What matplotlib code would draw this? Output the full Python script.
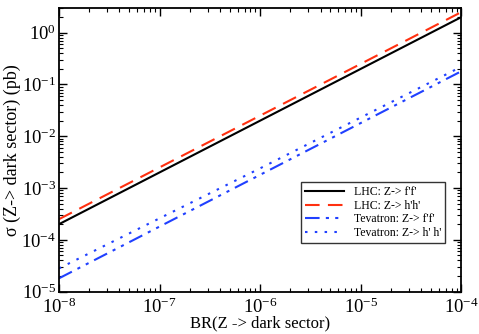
import matplotlib
matplotlib.use('Agg')
import matplotlib.pyplot as plt
import numpy as np

plt.rcParams['font.family'] = ['Liberation Serif', 'DejaVu Serif']
plt.rcParams['mathtext.fontset'] = 'custom'
plt.rcParams['mathtext.rm'] = 'Liberation Serif'
plt.rcParams['mathtext.it'] = 'Liberation Serif:italic'

# Data
br = [1e-8, 1e-7, 1e-6, 1e-5, 1e-4]
lhc_ff = [2.0e-4, 2.0e-3, 2.0e-2, 2.0e-1, 2.0]
lhc_hh = [2.5e-4, 2.5e-3, 2.5e-2, 2.5e-1, 2.5]
tev_ff = [1.8e-5, 1.8e-4, 1.8e-3, 1.8e-2, 1.8e-1]
tev_hh = [2.8e-5, 2.6e-4, 2.4e-3, 2.3e-2, 2.2e-1]

labels = ["LHC: Z-> f'f'", "LHC: Z-> h'h'",
          "Tevatron: Z-> f'f'", "Tevatron: Z-> h' h'"]

fig = plt.figure(figsize=(4.79, 3.34), dpi=100)
ax = fig.add_axes([0.123, 0.127, 0.84, 0.849])

ax.plot(br, lhc_ff, color='black', lw=1.5, label=labels[0])
ax.plot(br, lhc_hh, color='#ff3010', lw=1.5, dashes=(7, 4), label=labels[1])
ax.plot(br, tev_ff, color='#2040ff', lw=1.5, dashes=(7, 3, 1.5, 3, 1.5, 3), label=labels[2])
ax.plot(br, tev_hh, color='#2040ff', lw=1.5, linestyle=(0, (1.2, 3.5)), label=labels[3])

ax.set_xscale('log')
ax.set_yscale('log')
ax.set_xlim(1e-8, 1e-4)
ax.set_ylim(1e-5, 3.0)

ax.tick_params(which='both', direction='in', top=True, right=True, labelsize=13.5)
ax.tick_params(which='major', length=6, width=1)
ax.tick_params(which='minor', length=3, width=0.8)
ax.tick_params(axis='x', pad=4)
ax.tick_params(axis='y', pad=2)
ax.yaxis.set_minor_locator(matplotlib.ticker.LogLocator(base=10, subs=np.arange(2, 10)))
ax.xaxis.set_minor_locator(matplotlib.ticker.LogLocator(base=10, subs=np.arange(2, 10)))
for s in ax.spines.values():
    s.set_linewidth(1.3)

ax.set_xlabel('BR(Z -> dark sector)', fontsize=12, labelpad=-1)
ax.set_ylabel('\u03c3 (Z-> dark sector) (pb)', fontsize=13, labelpad=0)

leg = ax.legend(loc='lower right', bbox_to_anchor=(0.96, 0.172), fontsize=8.5,
                frameon=True, fancybox=False, edgecolor='black',
                handlelength=3.3, handletextpad=0.8, borderpad=0.35,
                labelspacing=0.12, borderaxespad=0)
leg.get_frame().set_linewidth(1.0)

fig.savefig('out.png', dpi=100)
